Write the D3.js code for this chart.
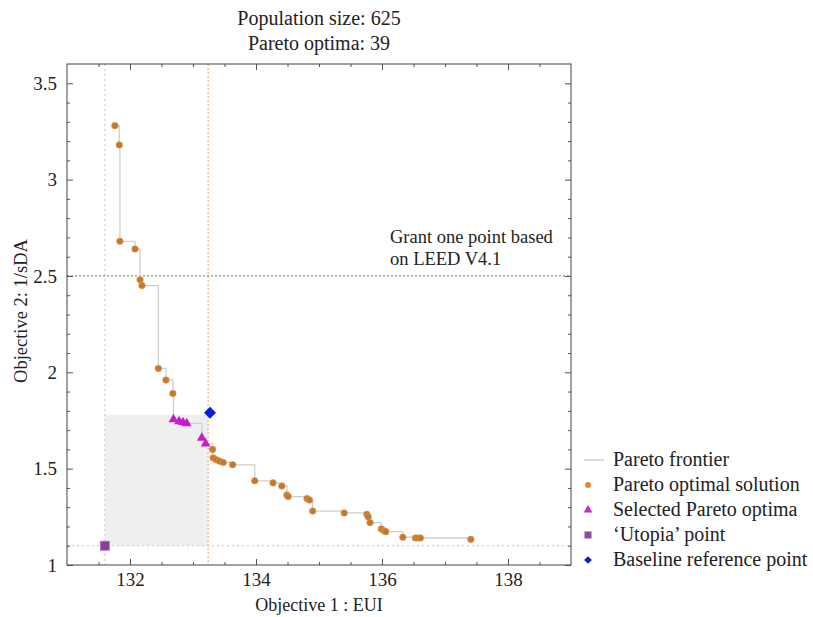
<!DOCTYPE html>
<html>
<head>
<meta charset="utf-8">
<script src="https://cdn.jsdelivr.net/npm/d3@7"></script>
<style>
  body { margin: 0; background: #fff; }
  text { font-family: "Liberation Serif", "Times New Roman", serif; fill: #222; }
</style>
</head>
<body>
<svg id="chart" width="813" height="617"></svg>
<script>
// pareto optimal solutions (EUI, 1/sDA)
const paretoEUI = [131.76, 131.83, 131.84, 132.08, 132.16, 132.19, 132.45, 132.57, 132.68,
  133.31, 133.32, 133.37, 133.42, 133.48, 133.63, 133.98, 134.27, 134.41, 134.49, 134.51,
  134.81, 134.85, 134.90, 135.40, 135.76, 135.78, 135.81, 135.99, 136.03, 136.06, 136.33,
  136.53, 136.57, 136.61, 137.41]
const paretoSDA = [3.28, 3.18, 2.68, 2.64, 2.48, 2.45, 2.02, 1.96, 1.89,
  1.60, 1.555, 1.546, 1.539, 1.532, 1.52, 1.437, 1.426, 1.41, 1.363, 1.355,
  1.345, 1.337, 1.28, 1.27, 1.263, 1.25, 1.22, 1.187, 1.178, 1.173, 1.144,
  1.14, 1.14, 1.14, 1.133]
// selected pareto optima
const selectedEUI = [132.69, 132.78, 132.84, 132.90, 133.14, 133.20]
const selectedSDA = [1.755, 1.745, 1.74, 1.735, 1.66, 1.63]
const utopia = [131.6, 1.10]
const baseline = [133.27, 1.79]
const leedLine = 2.5

const xTicks = [132, 134, 136, 138]
const yTicks = [1, 1.5, 2, 2.5, 3, 3.5]
const titleLines = ['Population size: 625', 'Pareto optima: 39']
const legendLabels = ['Pareto frontier', 'Pareto optimal solution', 'Selected Pareto optima', '\u2018Utopia\u2019 point', 'Baseline reference point']

const svg = d3.select('#chart')
const pLeft = 67, pRight = 571, pTop = 64, pBottom = 565

const x = d3.scaleLinear().domain([131, 139]).range([pLeft, pRight])
const y = d3.scaleLinear().domain([1, 3.6]).range([pBottom, pTop])

const orange = '#c07a35'
const orangeEdge = '#eb9a45'

// all points joined for the frontier
let pts = paretoEUI.map((e, i) => ({x: e, y: paretoSDA[i]}))
  .concat(selectedEUI.map((e, i) => ({x: e, y: selectedSDA[i]})))
pts.sort((a, b) => a.x - b.x)

// shaded box between utopia and baseline
svg.append('rect')
  .attr('x', x(utopia[0]))
  .attr('y', y(baseline[1] - 0.01))
  .attr('width', x(133.24) - x(utopia[0]))
  .attr('height', y(utopia[1]) - y(baseline[1] - 0.01))
  .attr('fill', '#efefef')

// reference lines
svg.append('line')
  .attr('x1', x(utopia[0])).attr('x2', x(utopia[0]))
  .attr('y1', pTop).attr('y2', pBottom)
  .attr('stroke', '#d2cfcf').attr('stroke-width', 1.2).attr('stroke-dasharray', '2,3')
svg.append('line')
  .attr('x1', x(133.24)).attr('x2', x(133.24))
  .attr('y1', pTop).attr('y2', pBottom)
  .attr('stroke', '#f0a274').attr('stroke-width', 1).attr('stroke-dasharray', '2,2')
svg.append('line')
  .attr('x1', pLeft).attr('x2', pRight)
  .attr('y1', y(utopia[1])).attr('y2', y(utopia[1]))
  .attr('stroke', '#d8c0b0').attr('stroke-width', 1.2).attr('stroke-dasharray', '2,3')
svg.append('line')
  .attr('x1', pLeft).attr('x2', pRight)
  .attr('y1', y(leedLine)).attr('y2', y(leedLine))
  .attr('stroke', '#5aae55').attr('stroke-width', 1.3).attr('stroke-dasharray', '2,2')

svg.append('text').attr('x', 390).attr('y', 243).attr('font-size', 18.5).text('Grant one point based')
svg.append('text').attr('x', 390).attr('y', 265).attr('font-size', 18.5).text('on LEED V4.1')

// frontier
svg.append('path')
  .datum(pts)
  .attr('fill', 'none')
  .attr('stroke', '#cfcfcf')
  .attr('stroke-width', 1.3)
  .attr('d', d3.line().x(d => x(d.x)).y(d => y(d.y)).curve(d3.curveStepAfter))

// pareto points
svg.selectAll('circle.pareto')
  .data(paretoEUI)
  .enter()
  .append('circle')
  .attr('class', 'pareto')
  .attr('cx', d => x(d))
  .attr('cy', (d, i) => y(paretoSDA[i]))
  .attr('r', 3.3)
  .attr('fill', orange)
  .attr('stroke', orangeEdge)
  .attr('stroke-opacity', 0.6)
  .attr('stroke-width', 1)

const tri = d3.symbol().type(d3.symbolTriangle).size(42)
svg.selectAll('path.sel')
  .data(selectedEUI)
  .enter()
  .append('path')
  .attr('class', 'sel')
  .attr('transform', (d, i) => `translate(${x(d)},${y(selectedSDA[i])})`)
  .attr('d', tri)
  .attr('fill', '#c21fc8')

svg.append('rect')
  .attr('x', x(utopia[0]) - 4.5).attr('y', y(utopia[1]) - 4.5)
  .attr('width', 9).attr('height', 9)
  .attr('fill', '#8a3f98').attr('stroke', '#b070c0').attr('stroke-width', 0.8)

// diamond = rotated square
svg.append('path')
  .attr('transform', `translate(${x(baseline[0])},${y(baseline[1])}) rotate(45)`)
  .attr('d', d3.symbol().type(d3.symbolSquare).size(72))
  .attr('fill', '#0c1fd8')

// axes with inward ticks on all sides
const minorX = d3.range(131.5, 139, 0.5).filter(v => !xTicks.includes(v))
const minorY = d3.range(1.1, 3.6, 0.1).map(v => +v.toFixed(1)).filter(v => !yTicks.includes(v))

function axisGroup(axis, tr) {
  const g = svg.append('g').attr('transform', tr).call(axis)
  g.select('.domain').remove()
  g.selectAll('line').attr('stroke', '#555')
  g.selectAll('text').attr('font-family', '"Liberation Serif", serif').attr('font-size', 19).attr('fill', '#222')
  return g
}
axisGroup(d3.axisBottom(x).tickValues(xTicks).tickSize(-6).tickPadding(8), `translate(0,${pBottom})`)
axisGroup(d3.axisBottom(x).tickValues(minorX).tickSize(-3).tickFormat(''), `translate(0,${pBottom})`)
axisGroup(d3.axisTop(x).tickValues(xTicks).tickSize(-6).tickFormat(''), `translate(0,${pTop})`)
axisGroup(d3.axisTop(x).tickValues(minorX).tickSize(-3).tickFormat(''), `translate(0,${pTop})`)
axisGroup(d3.axisLeft(y).tickValues(yTicks).tickSize(-6).tickPadding(10).tickFormat(d => d), `translate(${pLeft},0)`)
axisGroup(d3.axisLeft(y).tickValues(minorY).tickSize(-3).tickFormat(''), `translate(${pLeft},0)`)
axisGroup(d3.axisRight(y).tickValues(yTicks).tickSize(-6).tickFormat(''), `translate(${pRight},0)`)
axisGroup(d3.axisRight(y).tickValues(minorY).tickSize(-3).tickFormat(''), `translate(${pRight},0)`)

svg.append('rect')
  .attr('x', pLeft).attr('y', pTop)
  .attr('width', pRight - pLeft).attr('height', pBottom - pTop)
  .attr('fill', 'none').attr('stroke', '#444').attr('stroke-width', 1)

// titles
svg.selectAll('text.title')
  .data(titleLines)
  .enter()
  .append('text')
  .attr('class', 'title')
  .attr('x', (pLeft + pRight) / 2)
  .attr('y', (d, i) => 25 + i * 25)
  .attr('text-anchor', 'middle')
  .attr('font-size', 20)
  .text(d => d)

svg.append('text')
  .attr('x', (pLeft + pRight) / 2).attr('y', 611)
  .attr('text-anchor', 'middle').attr('font-size', 18)
  .text('Objective 1 : EUI')

svg.append('text')
  .attr('transform', `translate(27,311) rotate(-90)`)
  .attr('text-anchor', 'middle').attr('font-size', 18.5)
  .text('Objective 2: 1/sDA')

// legend
const legend = svg.append('g').attr('transform', 'translate(584,460)')
const rowH = 25
legend.append('line').attr('x1', 0).attr('x2', 20).attr('y1', 0).attr('y2', 0)
  .attr('stroke', '#c8c8c8').attr('stroke-width', 1.3)
legend.append('circle').attr('cx', 4).attr('cy', rowH).attr('r', 3).attr('fill', '#e0853c')
legend.append('path').attr('transform', `translate(4,${rowH * 2})`)
  .attr('d', d3.symbol().type(d3.symbolTriangle).size(32)).attr('fill', '#d020d0')
legend.append('rect').attr('x', 0.5).attr('y', rowH * 3 - 3.5).attr('width', 7).attr('height', 7).attr('fill', '#8e4c9c')
legend.append('path').attr('transform', `translate(4,${rowH * 4}) rotate(45)`)
  .attr('d', d3.symbol().type(d3.symbolSquare).size(30)).attr('fill', '#0a1ad8')
legend.selectAll('text')
  .data(legendLabels)
  .enter()
  .append('text')
  .attr('x', 29)
  .attr('y', (d, i) => i * rowH + 6)
  .attr('font-size', 20)
  .text(d => d)
</script>
</body>
</html>
